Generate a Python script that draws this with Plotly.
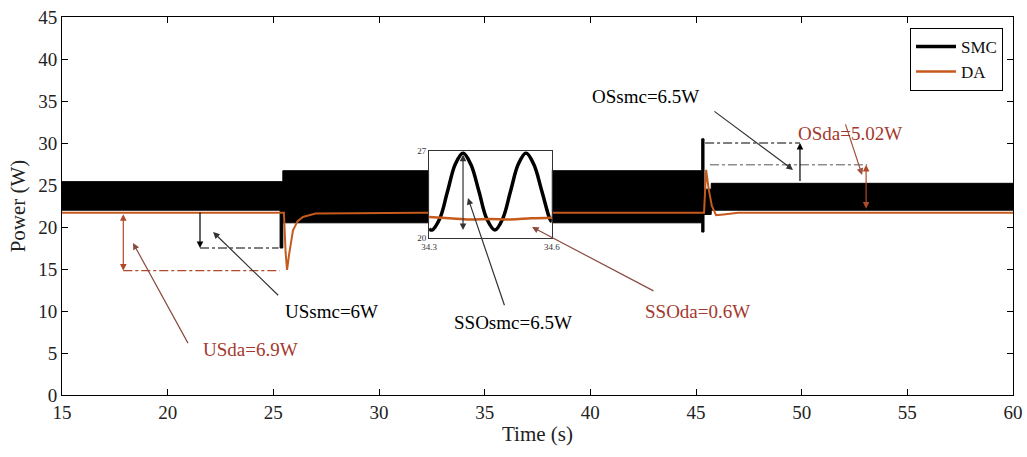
import plotly.graph_objects as go

# ---- SMC power: envelope of the fast-switching band (step segments) ----
smc_t = [15.0, 25.32, 25.45, 45.27, 45.38, 45.72, 60.0]
smc_upper = [25.4, 25.4, 26.7, 30.5, 24.5, 25.2, 25.2]
smc_lower = [22.0, 17.5, 20.5, 19.4, 21.5, 22.0, 22.0]

# ---- DA power ----
da_t = [15.0, 25.50, 25.58, 25.65, 25.75, 25.93, 26.15, 26.4, 27.0, 32.0,
        38.0, 45.38, 45.48, 45.60, 45.75, 45.95, 46.3, 47.0, 60.0]
da_p = [21.7, 21.7, 17.0, 14.9, 16.8, 19.6, 20.7, 21.2, 21.6, 21.7,
        21.7, 21.7, 26.8, 24.5, 22.5, 21.4, 21.5, 21.7, 21.7]

# ---- zoomed window 34.3 s - 34.6 s ----
zoom_t = [34.300, 34.307, 34.326, 34.345, 34.364, 34.383, 34.402, 34.422, 34.441,
          34.461, 34.480, 34.499, 34.518, 34.537, 34.556, 34.576, 34.595, 34.600]
zoom_smc = [20.75, 20.65, 21.56, 23.75, 25.94, 26.85, 25.94, 23.75, 21.56,
            20.65, 21.56, 23.75, 25.94, 26.85, 25.94, 23.75, 21.56, 21.3]
zoom_da_t = [34.30, 34.35, 34.40, 34.45, 34.50, 34.55, 34.60]
zoom_da = [21.7, 21.6, 21.5, 21.55, 21.5, 21.6, 21.65]

# ---- performance indices ----
da_level = 21.7
us_smc_level = 17.5
us_da_level = 14.8
os_smc_level = 30.0
os_smc_base = 25.3
os_da_level = 27.4

x_ticks = [15, 20, 25, 30, 35, 40, 45, 50, 55, 60]
y_ticks = [0, 5, 10, 15, 20, 25, 30, 35, 40, 45]

BLACK = "#000000"
DA_COLOR = "#C55A1C"
BROWN_TXT = "#A3392E"
BROWN_ARW = "#B0482A"
FONT = "Liberation Serif"

fig = go.Figure()

# SMC band
fig.add_trace(go.Scatter(x=smc_t, y=smc_upper, mode="lines", line=dict(color=BLACK, width=1, shape="hv"),
                         showlegend=False, hoverinfo="skip"))
fig.add_trace(go.Scatter(x=smc_t, y=smc_lower, mode="lines", line=dict(color=BLACK, width=1, shape="hv"),
                         fill="tonexty", fillcolor=BLACK, showlegend=False, hoverinfo="skip"))
# DA line
fig.add_trace(go.Scatter(x=da_t, y=da_p, mode="lines", line=dict(color=DA_COLOR, width=2),
                         showlegend=False))
# legend entries
fig.add_trace(go.Scatter(x=[None], y=[None], mode="lines", name="SMC", line=dict(color=BLACK, width=3.5)))
fig.add_trace(go.Scatter(x=[None], y=[None], mode="lines", name="DA", line=dict(color=DA_COLOR, width=2.5)))

# inset traces
fig.add_trace(go.Scatter(x=zoom_t, y=zoom_smc, mode="lines", xaxis="x2", yaxis="y2",
                         line=dict(color=BLACK, width=3.5, shape="spline"), showlegend=False))
fig.add_trace(go.Scatter(x=zoom_da_t, y=zoom_da, mode="lines", xaxis="x2", yaxis="y2",
                         line=dict(color=DA_COLOR, width=2.5, shape="spline"), showlegend=False))

shapes = [
    # undershoot reference lines
    dict(type="line", xref="x", yref="y", x0=21.53, x1=25.25, y0=us_smc_level, y1=us_smc_level,
         line=dict(color=BLACK, width=1.2, dash="dashdot")),
    dict(type="line", xref="x", yref="y", x0=17.9, x1=25.3, y0=us_da_level, y1=us_da_level,
         line=dict(color=BROWN_ARW, width=1.2, dash="dashdot")),
    # overshoot reference lines
    dict(type="line", xref="x", yref="y", x0=45.43, x1=49.92, y0=os_smc_level, y1=os_smc_level,
         line=dict(color=BLACK, width=1.2, dash="dashdot")),
    dict(type="line", xref="x", yref="y", x0=45.66, x1=53.1, y0=os_da_level, y1=os_da_level,
         line=dict(color="#555555", width=1, dash="dashdot")),
]


def arrow(x, y, ax, ay, color, both=False, xr="x", yr="y"):
    return dict(x=x, y=y, ax=ax, ay=ay, xref=xr, yref=yr, axref=xr, ayref=yr, text="",
                showarrow=True, arrowhead=2, arrowsize=1.1, arrowwidth=1.2, arrowcolor=color,
                arrowside="end+start" if both else "end", startarrowhead=2, startarrowsize=1.1)


def label(x, y, text, color):
    return dict(x=x, y=y, xref="x", yref="y", text=text, showarrow=False,
                font=dict(family=FONT, size=19, color=color))


annotations = [
    # US smc
    arrow(21.53, us_smc_level, 21.53, 21.9, BLACK),
    arrow(22.15, 19.4, 25.3, 11.7, "#333333"),
    label(27.75, 10.0, "USsmc=6W", BLACK),
    # US da
    arrow(17.9, us_da_level, 17.9, da_level, BROWN_ARW, both=True),
    arrow(18.36, 18.1, 21.0, 6.0, "#8A4A40"),
    label(23.9, 5.4, "USda=6.9W", BROWN_TXT),
    # SSO smc (inside zoom window)
    arrow(34.383, 20.65, 34.383, 26.85, "#333333", both=True, xr="x2", yr="y2"),
    arrow(34.21, 23.45, 35.96, 10.5, "#333333"),
    label(36.35, 8.6, "SSOsmc=6.5W", BLACK),
    # SSO da
    arrow(37.24, 20.0, 43.06, 12.3, "#8A4A40"),
    label(45.05, 10.0, "SSOda=0.6W", BROWN_TXT),
    # OS smc
    arrow(49.92, os_smc_level, 49.92, os_smc_base, BLACK),
    arrow(49.59, 26.8, 45.8, 33.9, "#333333"),
    label(42.6, 35.5, "OSsmc=6.5W", BLACK),
    # OS da
    arrow(53.05, os_da_level, 53.05, 22.0, BROWN_ARW, both=True),
    arrow(52.86, 26.2, 52.05, 32.4, "#A0523E"),
    label(52.3, 31.1, "OSda=5.02W", BROWN_TXT),
]

axis_common = dict(showline=True, linecolor=BLACK, linewidth=1, mirror="ticks", ticks="inside",
                   ticklen=6, tickcolor=BLACK, showgrid=False, zeroline=False, automargin=False,
                   tickfont=dict(family=FONT, size=19, color="#222222"))

fig.update_layout(
    width=1027, height=457,
    margin=dict(l=62, r=14, t=17, b=62),
    paper_bgcolor="white", plot_bgcolor="white",
    font=dict(family=FONT, color="#222222"),
    xaxis=dict(range=[15, 60], tickvals=x_ticks, domain=[0, 1],
               title=dict(text="Time (s)", font=dict(family=FONT, size=21), standoff=4),
               **axis_common),
    yaxis=dict(range=[0, 45], tickvals=y_ticks, domain=[0, 1],
               title=dict(text="Power (W)", font=dict(family=FONT, size=21), standoff=6),
               **axis_common),
    xaxis2=dict(domain=[0.386, 0.515], anchor="y2", range=[34.3, 34.6], tickvals=[34.3, 34.6],
                ticktext=["34.3", "34.6"], showline=True, mirror=True, linecolor="#333333",
                ticks="", showgrid=False, zeroline=False, automargin=False,
                tickfont=dict(family=FONT, size=9, color="#333333")),
    yaxis2=dict(domain=[0.415, 0.645], anchor="x2", range=[20, 27], tickvals=[20, 27],
                showline=True, mirror=True, linecolor="#333333", ticks="", showgrid=False,
                zeroline=False, automargin=False, tickfont=dict(family=FONT, size=9, color="#333333")),
    legend=dict(x=0.9895, y=0.971, xanchor="right", yanchor="top", bgcolor="white",
                bordercolor=BLACK, borderwidth=1, font=dict(family=FONT, size=17, color="#111111"),
                traceorder="normal", tracegroupgap=0, itemwidth=40),
    shapes=shapes,
    annotations=annotations,
    showlegend=True,
)

fig.write_html("out.html")
